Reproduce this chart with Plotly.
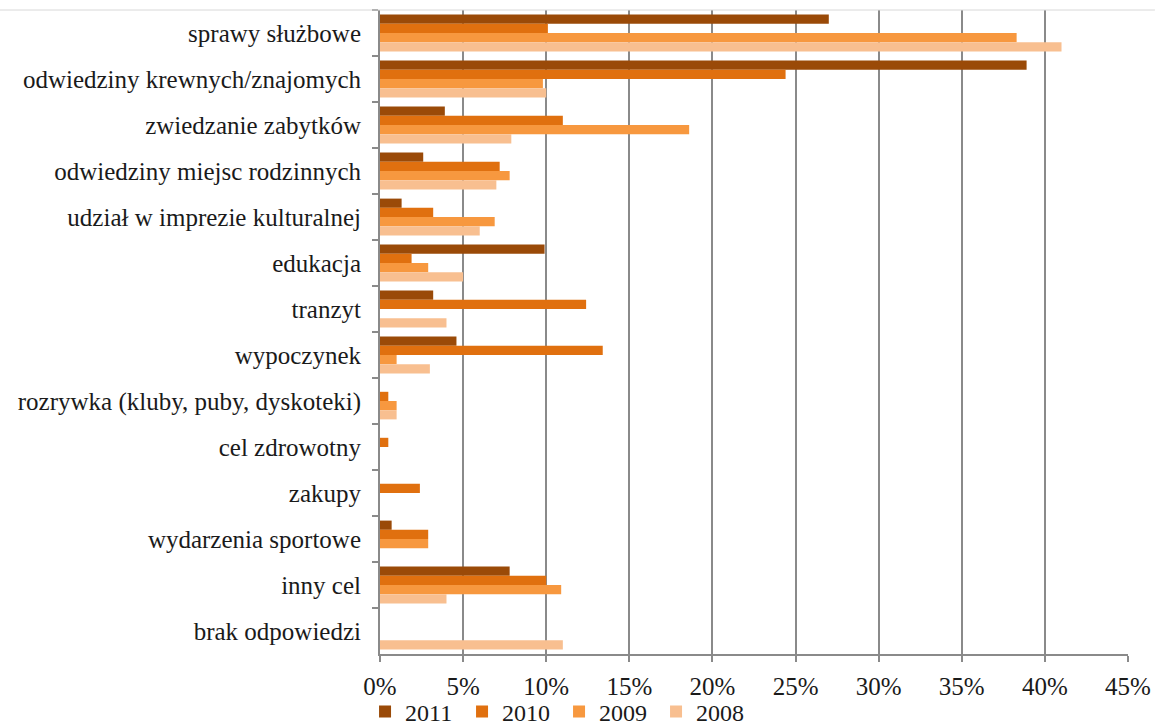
import plotly.graph_objects as go

categories = [
    "sprawy służbowe",
    "odwiedziny krewnych/znajomych",
    "zwiedzanie zabytków",
    "odwiedziny miejsc rodzinnych",
    "udział w imprezie kulturalnej",
    "edukacja",
    "tranzyt",
    "wypoczynek",
    "rozrywka (kluby, puby, dyskoteki)",
    "cel zdrowotny",
    "zakupy",
    "wydarzenia sportowe",
    "inny cel",
    "brak odpowiedzi",
]

v2011 = [27.0, 38.9, 3.9, 2.6, 1.3, 9.9, 3.2, 4.6, 0.0, 0.0, 0.0, 0.7, 7.8, 0.0]
v2010 = [10.1, 24.4, 11.0, 7.2, 3.2, 1.9, 12.4, 13.4, 0.5, 0.5, 2.4, 2.9, 10.0, 0.0]
v2009 = [38.3, 9.8, 18.6, 7.8, 6.9, 2.9, 0.0, 1.0, 1.0, 0.0, 0.0, 2.9, 10.9, 0.0]
v2008 = [41.0, 10.0, 7.9, 7.0, 6.0, 5.0, 4.0, 3.0, 1.0, 0.0, 0.0, 0.0, 4.0, 11.0]

series_names = ["2011", "2010", "2009", "2008"]
series_values = [v2011, v2010, v2009, v2008]
colors = ["#9A4A08", "#E0700F", "#F7983F", "#F8BF90"]

tick_vals = [0, 5, 10, 15, 20, 25, 30, 35, 40, 45]
tick_text = ["0%", "5%", "10%", "15%", "20%", "25%", "30%", "35%", "40%", "45%"]

fig = go.Figure()
for name, vals, col in zip(series_names, series_values, colors):
    fig.add_trace(go.Bar(
        y=categories, x=vals, name=name, orientation="h",
        marker=dict(color=col, line=dict(width=0)),
    ))

font = "Liberation Serif, Times New Roman, Times, serif"
fsize = 25
fig.update_layout(
    width=1155, height=726,
    margin=dict(l=380, r=27, t=10, b=72, autoexpand=False),
    paper_bgcolor="white", plot_bgcolor="white",
    barmode="group", bargap=0.2, bargroupgap=0.0,
    font=dict(family=font, size=fsize, color="#1a1a1a"),
    showlegend=True,
    legend=dict(
        orientation="h", x=-0.02, xanchor="left", y=-0.090, yanchor="middle",
        font=dict(family=font, size=24, color="#1a1a1a"),
        bgcolor="rgba(0,0,0,0)",
        itemwidth=30, traceorder="normal", tracegroupgap=0,
        entrywidth=52, entrywidthmode="pixels",
    ),
    xaxis=dict(
        range=[0, 45], tickvals=tick_vals, ticktext=tick_text,
        tickfont=dict(family=font, size=fsize, color="#1a1a1a"),
        showgrid=True, gridcolor="#8a8a8a", gridwidth=2,
        showline=True, linecolor="#8a8a8a", linewidth=2,
        ticks="outside", ticklen=6, tickcolor="#8a8a8a", tickwidth=2,
        ticklabelstandoff=3, automargin=False,
        zeroline=False, fixedrange=True,
    ),
    yaxis=dict(
        autorange="reversed", type="category",
        tickfont=dict(family=font, size=fsize, color="#1a1a1a"),
        showgrid=False, showline=True, linecolor="#8a8a8a", linewidth=2,
        ticks="outside", ticklen=6, tickcolor="#8a8a8a", tickwidth=2,
        tickson="boundaries", ticklabelstandoff=12, automargin=False,
        zeroline=False, fixedrange=True,
    ),
)

fig.add_shape(type="line", xref="paper", yref="paper", x0=-0.51, x1=1.036, y0=1.0, y1=1.0,
              line=dict(color="#d8d8d8", width=1))

fig.write_html("out.html")
